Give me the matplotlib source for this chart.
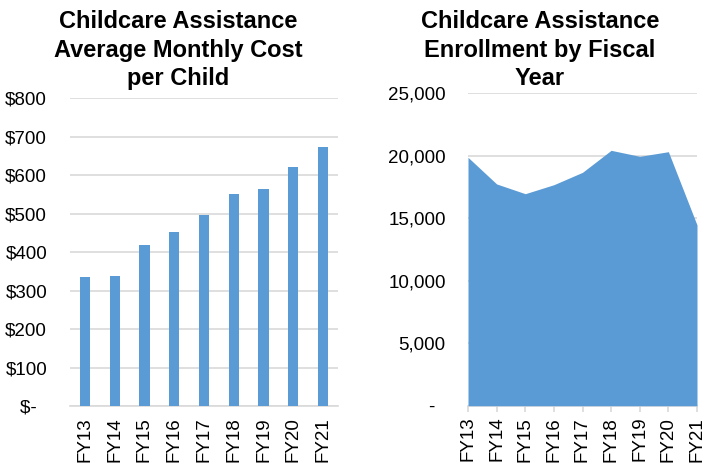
import matplotlib
matplotlib.use("Agg")
import matplotlib.pyplot as plt

plt.rcParams['font.family'] = ['Liberation Sans', 'DejaVu Sans']

years = ["FY13", "FY14", "FY15", "FY16", "FY17", "FY18", "FY19", "FY20", "FY21"]
monthly_cost = [336, 337, 419, 453, 497, 550, 564, 622, 672]
enrollment = [19870, 17740, 16960, 17680, 18670, 20430, 19950, 20320, 14460]

cost_ticks = [0, 100, 200, 300, 400, 500, 600, 700, 800]
cost_labels = ["$-  ", "$100", "$200", "$300", "$400", "$500", "$600", "$700", "$800"]
enr_ticks = [0, 5000, 10000, 15000, 20000, 25000]
enr_labels = ["-  ", "5,000", "10,000", "15,000", "20,000", "25,000"]

BLUE = "#5B9BD5"
GRID = "#D9D9D9"
FS = 13.5

fig = plt.figure(figsize=(7.05, 4.65), dpi=100)

# Left: bar chart
ax1 = fig.add_axes([70/705, 1-406/465, 268/705, 308/465])
x = range(len(years))
ax1.bar(x, monthly_cost, width=0.34, color=BLUE, zorder=3)
ax1.set_xlim(-0.5, len(years)-0.5)
ax1.set_ylim(0, 800)
ax1.set_yticks(cost_ticks)
ax1.set_yticklabels(cost_labels)
ax1.set_xticks(list(x))
ax1.set_xticklabels(years, rotation=90)
ax1.yaxis.grid(True, color=GRID, linewidth=1.2, zorder=0)
for s in ["top", "right", "left"]:
    ax1.spines[s].set_visible(False)
ax1.spines["bottom"].set_color(GRID)
ax1.spines["bottom"].set_linewidth(1.2)
ax1.tick_params(axis="y", length=0, pad=16.5, labelsize=FS)
ax1.tick_params(axis="x", length=0, pad=8, labelsize=FS)
fig.text(178/705, 1-50/465, "Childcare Assistance\nAverage Monthly Cost\nper Child",
         ha="center", va="center", fontsize=17, fontweight="bold", linespacing=1.28)

# Right: area chart
ax2 = fig.add_axes([468/705, 1-405.7/465, 229/705, 312.5/465])
xi = list(range(len(years)))
ax2.fill_between(xi, enrollment, 0, color=BLUE, linewidth=0, zorder=3)
ax2.set_xlim(0, len(years)-1)
ax2.set_ylim(0, 25000)
ax2.set_yticks(enr_ticks)
ax2.set_yticklabels(enr_labels)
ax2.set_xticks(xi)
ax2.set_xticklabels(years, rotation=90)
ax2.yaxis.grid(True, color=GRID, linewidth=1.2, zorder=0)
for s in ["top", "right", "left"]:
    ax2.spines[s].set_visible(False)
ax2.spines["bottom"].set_color(GRID)
ax2.spines["bottom"].set_linewidth(1.2)
ax2.tick_params(axis="y", length=0, pad=16, labelsize=FS)
ax2.tick_params(axis="x", length=4, width=1.2, color=GRID, pad=4, labelsize=FS)
fig.text(540/705, 1-50/465, "Childcare Assistance\nEnrollment by Fiscal\nYear",
         ha="center", va="center", fontsize=17, fontweight="bold", linespacing=1.28)

fig.savefig("out.png", dpi=100)
